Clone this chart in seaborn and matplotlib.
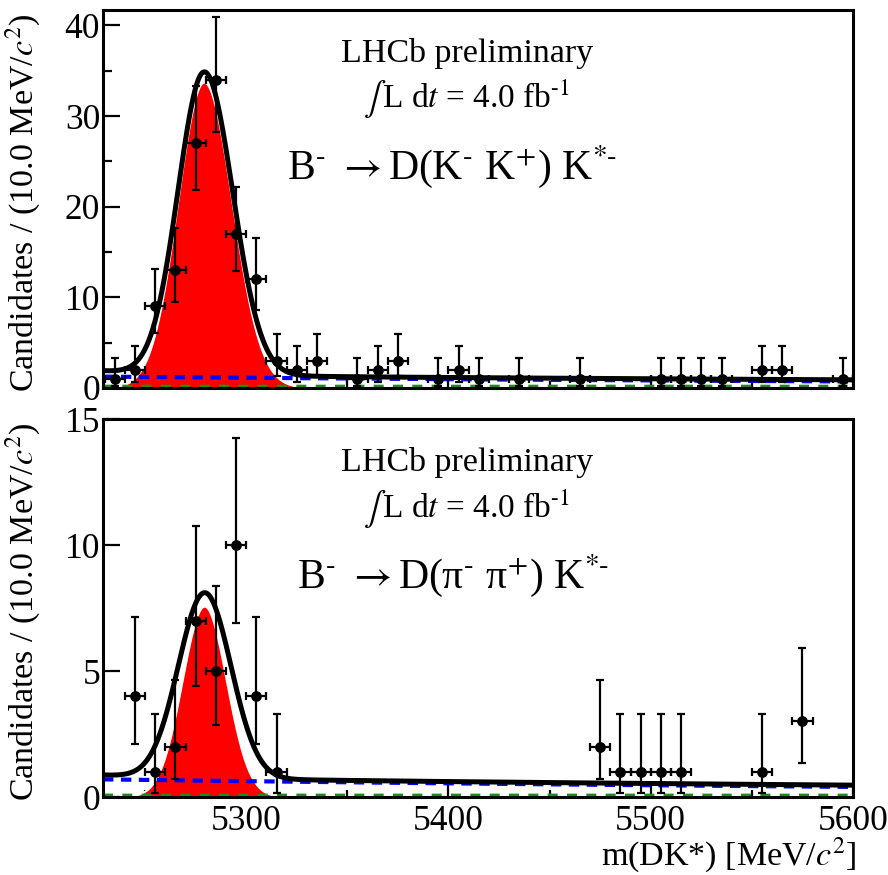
import numpy as np
import pandas as pd
import matplotlib
matplotlib.use("Agg")
import matplotlib.pyplot as plt
from matplotlib.ticker import MultipleLocator, NullLocator
import seaborn as sns
from math import factorial

# ---------------- data ----------------
# bin centres (10 MeV bins) and candidate counts, empty bins omitted
x_top = [5235, 5245, 5255, 5265, 5275, 5285, 5295, 5305, 5315, 5325, 5335,
         5355, 5365, 5375, 5395, 5405, 5415, 5435, 5465, 5505, 5515, 5525,
         5535, 5555, 5565, 5595]
n_top = [1, 2, 9, 13, 27, 34, 17, 12, 3, 2, 3,
         1, 2, 3, 1, 2, 1, 1, 1, 1, 1, 1,
         1, 2, 2, 1]
x_bot = [5245, 5255, 5265, 5275, 5285, 5295, 5305, 5315,
         5475, 5485, 5495, 5505, 5515, 5555, 5575]
n_bot = [4, 1, 2, 7, 5, 10, 4, 1,
         2, 1, 1, 1, 1, 1, 3]
bin_half_width = 5.0

# fit-model parameters
# signal (red) / total-signal part: (peak height, mean, sigma_left, sigma_right)
sig_top = (33.7, 5279.3, 13.0, 14.0)
tot_top = (33.4, 5279.3, 13.0, 14.0)
sig_bot = (7.56, 5279.5, 11.0, 11.0)
tot_bot = (7.36, 5279.5, 13.0, 13.0)
# combinatorial background (blue): (level at 5230, exponential slope)
bkg_top = (1.25, 0.0015)
bkg_bot = (0.70, 0.0015)
# second background (green): flat level
green_top = 0.18
green_bot = 0.07
# low-mass tail included only in total: (level at 5230, decay length)
lowtail_top = (0.45, 40.0)
lowtail_bot = (0.10, 40.0)

x_range = (5229.2, 5600.0)
ylim_top = (0.0, 41.7)
ylim_bot = (0.0, 15.0)
ylabel = "Candidates / (10.0 MeV/$c^{2}$)"
xlabel = "m(DK*) [MeV/$c^{2}$]"
lumi_text = "$\\int\\,$L d$t$ = 4.0 fb$^{\u20101}$"
decay_top = "B$^{\u2010}$ $\\rightarrow$D(K$^{\u2010}$ K$^{+}$) K$^{*\u2010}$"
decay_bot = "B$^{\u2010}$ $\\rightarrow$D(\u03c0$^{\u2010}$ \u03c0$^{+}$) K$^{*\u2010}$"


def poisson_interval(n, cl=0.682689):
    alpha = (1.0 - cl) / 2.0

    def cdf(k, mu):
        return sum(mu ** i * np.exp(-mu) / factorial(i) for i in range(k + 1))

    a, b = float(n), n + 30.0
    for _ in range(80):
        m = 0.5 * (a + b)
        if cdf(n, m) > alpha:
            a = m
        else:
            b = m
    up = 0.5 * (a + b)
    if n == 0:
        low = 0.0
    else:
        a, b = 0.0, float(n)
        for _ in range(80):
            m = 0.5 * (a + b)
            if 1.0 - cdf(n - 1, m) < alpha:
                a = m
            else:
                b = m
        low = 0.5 * (a + b)
    return n - low, up - n


def bifur(x, p):
    h, mu, sl, sr = p
    s = np.where(x < mu, sl, sr)
    return h * np.exp(-0.5 * ((x - mu) / s) ** 2)


# ---------------- style ----------------
sns.set_theme(style="ticks")
plt.rcParams["font.family"] = ["Liberation Serif", "DejaVu Serif"]
plt.rcParams["mathtext.fontset"] = "stix"
plt.rcParams["axes.linewidth"] = 2.2
for k in ["text.color", "axes.labelcolor", "xtick.color", "ytick.color",
          "xtick.labelcolor", "ytick.labelcolor", "axes.edgecolor"]:
    plt.rcParams[k] = "black"

fig = plt.figure(figsize=(8.88, 8.75), dpi=100)
ax_top = fig.add_axes([0.116, 0.5566, 0.8446, 0.432])
ax_bot = fig.add_axes([0.116, 0.0891, 0.8446, 0.432])

TICK_FS = 25.5
LAB_FS = 24.5

panels = [
    (ax_top, x_top, n_top, sig_top, tot_top, bkg_top, green_top, lowtail_top,
     ylim_top, decay_top, 10, 5),
    (ax_bot, x_bot, n_bot, sig_bot, tot_bot, bkg_bot, green_bot, lowtail_bot,
     ylim_bot, decay_bot, 5, None),
]

xg = np.arange(x_range[0], x_range[1] + 0.25, 0.25)

for (ax, xs, ns, sp, tp, bp, gl, lt, ylim, decay, ymaj, ymin) in panels:
    sig = bifur(xg, sp)
    bkg = bp[0] * np.exp(-bp[1] * (xg - 5230.0))
    grn = np.full_like(xg, gl)
    low = lt[0] * np.exp(-(xg - 5230.0) / lt[1])
    tot = bifur(xg, tp) + bkg + grn + low

    ax.fill_between(xg, 0, sig, color="#ff0000", linewidth=0, zorder=1)
    curves = pd.DataFrame({"m": xg, "sig": sig, "bkg": bkg, "grn": grn, "tot": tot})
    sns.lineplot(data=curves, x="m", y="sig", ax=ax, color="white", linewidth=1.5,
                 estimator=None, sort=False, zorder=1.2)
    sns.lineplot(data=curves, x="m", y="grn", ax=ax, color="#1e8c1e", linewidth=2.4,
                 linestyle=(0, (3.0, 2.8)), estimator=None, sort=False, zorder=1.5)
    sns.lineplot(data=curves, x="m", y="bkg", ax=ax, color="#0000ff", linewidth=3.0,
                 linestyle=(0, (2.5, 1.8)), estimator=None, sort=False, zorder=1.6)
    sns.lineplot(data=curves, x="m", y="tot", ax=ax, color="black", linewidth=3.6,
                 estimator=None, sort=False, zorder=3)

    errs = [poisson_interval(n) for n in ns]
    lo = [e[0] for e in errs]
    up = [e[1] for e in errs]
    ax.errorbar(xs, ns, yerr=[lo, up], xerr=bin_half_width, fmt="none",
                ecolor="black", elinewidth=1.6, capsize=2.8, capthick=1.6, zorder=4)
    pts = pd.DataFrame({"m": xs, "n": ns})
    sns.scatterplot(data=pts, x="m", y="n", ax=ax, color="black", s=60,
                    marker="o", linewidth=0, zorder=5)

    ax.set_xlim(*x_range)
    ax.set_ylim(*ylim)
    ax.set_xlabel("")
    ax.set_ylabel("")
    ax.xaxis.set_major_locator(MultipleLocator(100))
    ax.xaxis.set_minor_locator(MultipleLocator(50))
    ax.yaxis.set_major_locator(MultipleLocator(ymaj))
    if ymin:
        ax.yaxis.set_minor_locator(MultipleLocator(ymin))
    else:
        ax.yaxis.set_minor_locator(NullLocator())
    ax.tick_params(axis="both", which="both", direction="in", top=False,
                   right=False, width=1.6, color="black", labelcolor="black")
    ax.tick_params(axis="x", which="major", length=9.5, pad=6, labelsize=TICK_FS)
    ax.tick_params(axis="x", which="minor", length=5)
    ax.tick_params(axis="y", which="major", length=12, pad=2, labelsize=TICK_FS)
    ax.tick_params(axis="y", which="minor", length=6.5)
    for s in ax.spines.values():
        s.set_visible(True)
        s.set_linewidth(2.2)
        s.set_color("black")
        s.set_zorder(6)

    ax.text(0.485, 0.886, "LHCb preliminary", transform=ax.transAxes,
            ha="center", va="center", fontsize=24.5, color="black")
    ax.text(0.485, 0.762, lumi_text, transform=ax.transAxes,
            ha="center", va="center", fontsize=24, color="black")
    ax.text(0.466, 0.585, decay, transform=ax.transAxes,
            ha="center", va="center", fontsize=30, color="black")
    ax.text(-0.107, 0.99, ylabel, transform=ax.transAxes, rotation=90,
            ha="center", va="top", fontsize=LAB_FS, color="black")

ax_top.tick_params(axis="x", which="both", labelbottom=False)
ax_bot.text(1.005, -0.153, xlabel, transform=ax_bot.transAxes,
            ha="right", va="center", fontsize=24.5, color="black")

fig.savefig("out.png", dpi=100)
